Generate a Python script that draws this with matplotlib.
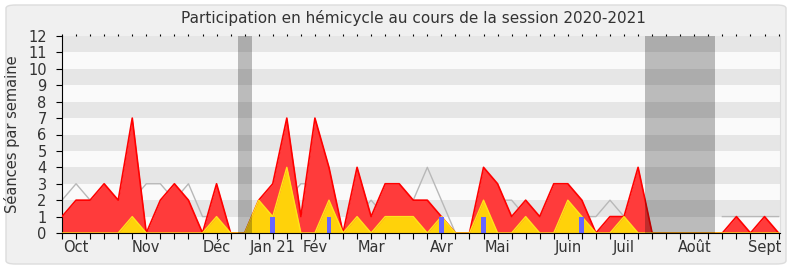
import numpy as np
import matplotlib
matplotlib.use("Agg")
import matplotlib.pyplot as plt
from matplotlib.patches import FancyBboxPatch

# hebdo, semaine 0 = debut octobre 2020
presences = [1, 2, 2, 3, 2, 7, 0, 2, 3, 2, 0, 3, 0, 0, 2, 3, 7, 1, 7, 4,
             0, 4, 1, 3, 3, 2, 2, 1, 0, 0, 4, 3, 1, 2, 1, 3, 3, 2, 0, 1,
             1, 4, 0, 0, 0, 0, 0, 0, 1, 0, 1, 0]
interventions = [0, 0, 0, 0, 0, 1, 0, 0, 0, 0, 0, 1, 0, 0, 2, 1, 4, 0, 0, 2,
                 0, 1, 0, 1, 1, 1, 0, 1, 0, 0, 2, 0, 0, 1, 0, 0, 2, 1, 0, 0,
                 1, 0, 0, 0, 0, 0, 0, 0, 0, 0, 0, 0]
# pas de mediane pendant les vacances
mediane = [2, 3, 2, 2, 2, 2, 3, 3, 2, 3, 1, 1, 0, None, 1, 2, 2, 3, 3, 2,
           0, 1, 2, 1, 1, 2, 4, 2, 0, 0, 1, 2, 2, 1, 1, 2, 2, 1, 1, 2,
           1, 1, None, None, None, None, None, 1, 1, 1, 1, 1]
questions_semaines = [15, 19, 27, 30, 37]
vacances = [13, 42, 43, 44, 45, 46]
mois_pos = [1, 6, 11, 15, 18, 22, 27, 31, 36, 40, 45, 50]
mois_noms = ["Oct", "Nov", "Déc", "Jan 21", "Fév", "Mar", "Avr", "Mai",
             "Juin", "Juil", "Août", "Sept"]

W, H = 790, 267
fig = plt.figure(figsize=(W / 100, H / 100), dpi=100, facecolor="white")
fig.patches.append(FancyBboxPatch((6 / W, 3 / H), 780 / W, 259 / H,
                                  boxstyle="round,pad=0,rounding_size=0.012",
                                  transform=fig.transFigure, facecolor="#f0f0f0",
                                  edgecolor="#dcdcdc", linewidth=1, zorder=-10))

ax = fig.add_axes([62 / W, (H - 233) / H, 718 / W, 197 / H])
ax.set_facecolor("#fafafa")
weeks = np.arange(len(presences))
n = len(presences)

for k in range(1, 12, 2):
    ax.axhspan(k, k + 1, color="#e6e6e6", lw=0, zorder=0)

med = np.array([np.nan if m is None else m for m in mediane], dtype=float)
ax.plot(weeks, med, color="#b8b8b8", lw=1, zorder=1)
ax.fill_between(weeks, presences, color="#ff3b3b", lw=0, zorder=2)
ax.plot(weeks, presences, color="#ff0000", lw=1.2, zorder=3)
ax.fill_between(weeks, interventions, color="#ffd20a", lw=0, zorder=4)
ax.plot(weeks, interventions, color="#ffe41a", lw=1, zorder=5)
ax.bar(questions_semaines, [1] * len(questions_semaines), width=0.35,
       color="#6666ff", lw=0, zorder=6)

for v in vacances:
    ax.axvspan(v - 0.5, v + 0.5, color="black", alpha=0.25, lw=0, zorder=7)

ax.set_xlim(0, n - 1 + 0.1)
ax.set_ylim(0, 12)
ax.set_yticks(range(13))
ax.tick_params(axis="y", labelsize=10.5, length=4, color="black", pad=7,
               labelcolor="#333333")

labels = [""] * n
for p, m in zip(mois_pos, mois_noms):
    labels[p] = m
ax.set_xticks(weeks)
ax.set_xticklabels(labels)
ax.tick_params(axis="x", labelsize=10.5, length=4, pad=1, labelcolor="#333333",
               top=True, labeltop=False)
for t in ax.xaxis.get_ticklines()[1::2]:
    t.set_markersize(1.2)

ax.spines["top"].set_visible(False)
ax.spines["right"].set_color("#dddddd")
ax.spines["left"].set_color("black")
ax.spines["bottom"].set_color("black")
ax.spines["bottom"].set_zorder(8)

ax.set_ylabel("Séances par semaine", fontsize=10.5, color="#333333")
ax.yaxis.set_label_coords(-0.058, 0.5)
fig.text(413 / W, 1 - 18 / H, "Participation en hémicycle au cours de la session 2020-2021",
         ha="center", va="center", fontsize=11, color="#333333")

fig.savefig("out.png", dpi=100, facecolor=fig.get_facecolor())
